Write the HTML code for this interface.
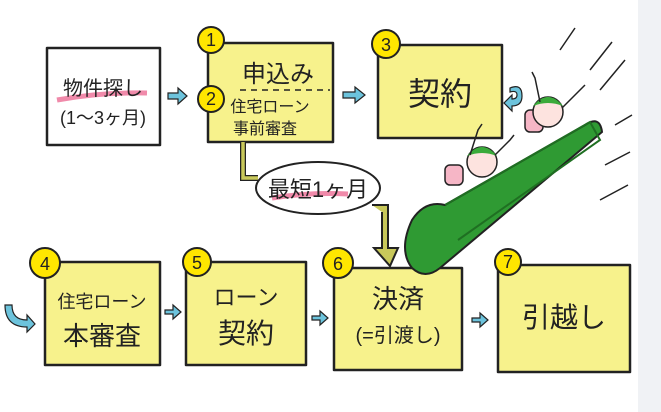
<!DOCTYPE html>
<html><head><meta charset="utf-8"><style>
body{margin:0;width:661px;height:412px;overflow:hidden;background:#fff;font-family:"Liberation Sans","Noto Sans CJK JP",sans-serif}
svg{position:absolute;left:0;top:0}
text{font-family:"Liberation Sans","Noto Sans CJK JP",sans-serif;fill:#222}
</style></head><body>
<svg width="661" height="412" viewBox="0 0 661 412">
<rect x="638" y="0" width="23" height="412" fill="#f0f2f5"/>
<g stroke="#222" stroke-width="2.5" stroke-linejoin="round">
<rect x="47" y="48" width="113" height="97" fill="#fff"/>
<rect x="208" y="43" width="125" height="99" fill="#f7f28c"/>
<rect x="378" y="45" width="124" height="93" fill="#f7f28c"/>
<rect x="45" y="262" width="115" height="103" fill="#f7f28c"/>
<rect x="186" y="262" width="120" height="103" fill="#f7f28c"/>
<rect x="334" y="268" width="128" height="102" fill="#f7f28c"/>
<rect x="498" y="265" width="132" height="107" fill="#f7f28c"/>
</g>
<line x1="240" y1="90" x2="330" y2="90" stroke="#222" stroke-width="1.5" stroke-dasharray="6,5"/>
<path d="M243 142 V178 H258" fill="none" stroke="#222" stroke-width="6"/>
<path d="M243 142 V178 H258" fill="none" stroke="#c8c85a" stroke-width="3.5"/>
<path d="M372 205 H388 V248 H398 L390 266 L374 248 H382 V212" fill="#c8c85a" stroke="#222" stroke-width="2"/>
<ellipse cx="318" cy="188" rx="62" ry="26" fill="#fff" stroke="#222" stroke-width="2"/>
<path d="M272 198 Q310 192 348 194" stroke="#f08aaa" stroke-width="5" fill="none"/>
<text x="318" y="197" font-size="22" text-anchor="middle">最短1ヶ月</text>
<!-- slide -->
<path d="M412 268 Q398 250 412 220 Q425 200 445 205 L585 125 Q600 115 602 132 L440 268 Q425 280 412 268Z" fill="#2f9a33" stroke="#222" stroke-width="2"/>
<path d="M445 205 L590 122 L600 140 L458 240" fill="none" stroke="#1f6f22" stroke-width="2"/>
<g stroke="#222" stroke-width="1.5">
<rect x="445" y="165" width="18" height="20" rx="5" fill="#f6b6c6"/>
<rect x="525" y="110" width="18" height="22" rx="5" fill="#f6b6c6"/>
<circle cx="482" cy="162" r="15" fill="#fde3df"/>
<circle cx="548" cy="112" r="15" fill="#fde3df"/>
</g>
<path d="M467 156 Q482 138 497 156 Q482 150 467 156Z" fill="#3aaa3a"/>
<path d="M533 106 Q548 88 563 106 Q548 100 533 106Z" fill="#3aaa3a"/>
<g stroke="#222" stroke-width="1.5" fill="none">
<path d="M470 155 L478 130 L482 124 M495 155 L510 140 L514 135 M540 102 L535 78 L532 72 M562 108 L580 90 L585 85"/>
<path d="M590 70 L612 42 M600 90 L625 60 M615 125 L632 115 M560 50 L575 28 M605 165 L630 152 M600 200 L628 185"/>
</g>
<g fill="#ffe600" stroke="#222" stroke-width="2">
<circle cx="211" cy="40" r="13"/><circle cx="211" cy="99" r="13"/><circle cx="386" cy="44" r="14"/>
<circle cx="45" cy="263" r="15"/><circle cx="197" cy="262" r="14"/><circle cx="338" cy="263" r="15"/><circle cx="508" cy="262" r="13"/>
</g>
<g font-size="18" text-anchor="middle">
<text x="211" y="46">1</text><text x="211" y="105">2</text><text x="386" y="51">3</text>
<text x="45" y="270">4</text><text x="197" y="269">5</text><text x="338" y="270">6</text><text x="508" y="268">7</text>
</g>
<g fill="#6cc3dc" stroke="#222" stroke-width="1.2">
<path d="M168 93 h10 v-5 l9 8 l-9 8 v-5 h-10z"/>
<path d="M343 92 h12 v-5 l10 8 l-10 8 v-5 h-12z"/>
<path d="M165 310 h8 v-5 l8 7 l-8 7 v-5 h-8z"/>
<path d="M312 316 h8 v-5 l8 7 l-8 7 v-5 h-8z"/>
<path d="M472 318 h8 v-5 l8 7 l-8 7 v-5 h-8z"/>
<path d="M12 305 q0 15 15 15 v-5 l8 9 l-8 8 v-5 q-22 0 -22 -22z"/>
<path d="M510 88 q12 -5 12 8 q0 10 -10 10 v5 l-8 -8 l8 -8 v4 q5 0 5 -4 q0 -5 -7 -3z"/>
</g>
<path d="M57 100 Q100 92 147 93" stroke="#f08aaa" stroke-width="5" fill="none"/>
<g font-size="19" text-anchor="middle">
<text x="103" y="95" font-size="20">物件探し</text>
<text x="103" y="124" font-size="18">(1～3ヶ月)</text>
<text x="278" y="82" font-size="24">申込み</text>
<text x="270" y="112" font-size="16">住宅ローン</text>
<text x="265" y="134" font-size="16">事前審査</text>
<text x="440" y="105" font-size="32">契約</text>
<text x="102" y="308" font-size="18">住宅ローン</text>
<text x="102" y="345" font-size="26">本審査</text>
<text x="246" y="305" font-size="22">ローン</text>
<text x="246" y="343" font-size="28">契約</text>
<text x="398" y="308" font-size="26">決済</text>
<text x="398" y="342" font-size="20">(=引渡し)</text>
<text x="564" y="327" font-size="28">引越し</text>
</g>
</svg>
</body></html>
